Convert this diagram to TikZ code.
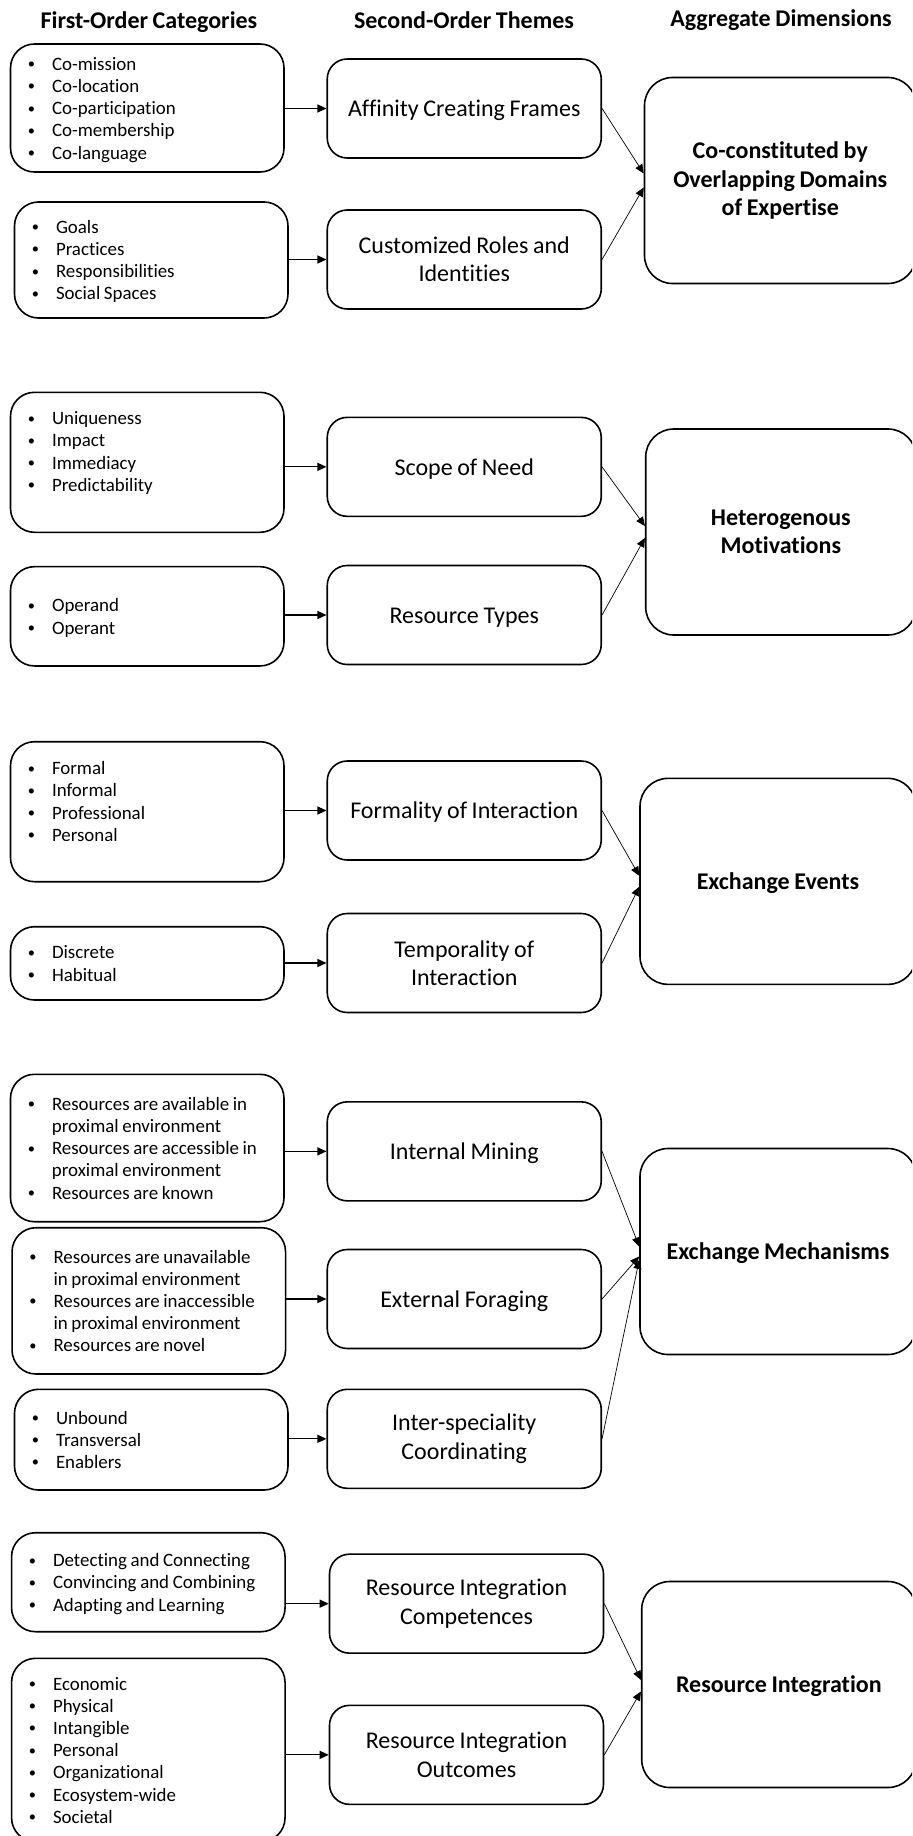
\documentclass[tikz,border=0pt]{standalone}
\usepackage{fontspec}
\setmainfont{Carlito}[Ligatures={NoCommon}, WordSpace=0.85]
\usetikzlibrary{arrows.meta, positioning}

\newcommand{\bul}{\makebox[10pt]{\raisebox{0.8pt}{\fontsize{7.2}{7.2}\selectfont\textbullet}}}
\newcommand{\catlist}[1]{\fontsize{9.45}{11.1}\selectfont\spaceskip=0pt\xspaceskip=0pt\raisebox{-1.1pt}[\height][\depth]{\begin{tabular}{@{\hspace{5.5pt}}l@{\hspace{5.25pt}}l@{}}#1\end{tabular}}}

\begin{document}
\begin{tikzpicture}[
  x=0.5pt, y=-0.5pt,
  catbox/.style={draw, line width=0.8pt, rounded corners=12pt, inner sep=0pt, text width=136.75pt, align=left},
  themebox/.style={draw, line width=0.8pt, rounded corners=10pt, inner sep=0pt, minimum width=137pt, minimum height=49.5pt, align=center, font=\fontsize{12}{14.15}\selectfont},
  dimbox/.style={draw, line width=0.8pt, rounded corners=14pt, inner sep=0pt, minimum height=103pt, align=center, font=\bfseries\fontsize{12}{14.25}\selectfont},
  single/.style={text height=10.4pt, text depth=2pt},
  hdr/.style={font=\bfseries\fontsize{12}{14}\selectfont, inner sep=0pt, text height=9.7pt, text depth=2pt},
  feed/.style={-{Triangle[length=4.5pt, width=4pt]}, line width=0.6pt},
  merge/.style={-{Triangle[length=4.5pt, width=4pt]}, line width=0.35pt}
]
  \useasboundingbox (0,0) rectangle (912,1836);
  \clip (0,0) rectangle (912,1836);

  \node[hdr] (h1) at (149,20.5) {First-Order Categories};
  \node[hdr] (h2) at (464,20.5) {Second-Order Themes};
  \node[hdr] (h3) at (781,19) {Aggregate Dimensions};

  \node[catbox, minimum height=64pt] (cat11) at (147.25,108) {\catlist{\bul & Co-mission\\ \bul & Co-location\\ \bul & Co-participation\\ \bul & Co-membership\\ \bul & Co-language}};
  \node[catbox, minimum height=58pt] (cat12) at (151.25,260) {\catlist{\bul & Goals\\ \bul & Practices\\ \bul & Responsibilities\\ \bul & Social Spaces}};
  \node[catbox, minimum height=70pt] (cat21) at (147.25,462.3) {\catlist{\bul & Uniqueness\\ \bul & Impact\\ \bul & Immediacy\\ \bul & Predictability\\[11pt]}};
  \node[catbox, minimum height=49.65pt] (cat22) at (147.25,616.3) {\catlist{\bul & Operand\\ \bul & Operant}};
  \node[catbox, minimum height=70pt] (cat31) at (147.25,811.7) {\catlist{\bul & Formal\\ \bul & Informal\\ \bul & Professional\\ \bul & Personal\\[10.4pt]}};
  \node[catbox, minimum height=36.65pt] (cat32) at (147.25,963.35) {\catlist{\bul & Discrete\\ \bul & Habitual}};
  \node[catbox, minimum height=73.7pt] (cat41) at (147.25,1148) {\catlist{\bul & Resources are available in\\ & proximal environment\\ \bul & Resources are accessible in\\ & proximal environment\\ \bul & Resources are known}};
  \node[catbox, minimum height=73.15pt] (cat42) at (148.8,1300.85) {\catlist{\bul & Resources are unavailable\\ & in proximal environment\\ \bul & Resources are inaccessible\\ & in proximal environment\\ \bul & Resources are novel}};
  \node[catbox, minimum height=50.35pt] (cat43) at (151.25,1439.65) {\catlist{\bul & Unbound\\ \bul & Transversal\\ \bul & Enablers}};
  \node[catbox, minimum height=49.5pt] (cat51) at (148.3,1582.2) {\catlist{\bul & Detecting and Connecting\\ \bul & Convincing and Combining\\ \bul & Adapting and Learning}};
  \node[catbox, minimum height=91.7pt] (cat52) at (148.3,1750) {\catlist{\bul & Economic\\ \bul & Physical\\ \bul & Intangible\\ \bul & Personal\\ \bul & Organizational\\ \bul & Ecosystem-wide\\ \bul & Societal}};

  \node[themebox, single] (theme11) at (464.25,108.5) {Affinity Creating Frames};
  \node[themebox] (theme12) at (464.25,259.5) {Customized Roles and\\Identities};
  \node[themebox, single] (theme21) at (464.25,466.85) {Scope of Need};
  \node[themebox, single] (theme22) at (464.25,615) {Resource Types};
  \node[themebox, single] (theme31) at (464.25,810.5) {Formality of Interaction};
  \node[themebox] (theme32) at (464.25,963) {Temporality of\\Interaction};
  \node[themebox, single] (theme41) at (464.25,1151.35) {Internal Mining};
  \node[themebox, single] (theme42) at (464.25,1299) {External Foraging};
  \node[themebox] (theme43) at (464.25,1438.8) {Inter-speciality\\Coordinating};
  \node[themebox] (theme51) at (466.5,1603.65) {Resource Integration\\Competences};
  \node[themebox] (theme52) at (466.5,1754.85) {Resource Integration\\Outcomes};

  \node[dimbox, minimum width=135.75pt] (dim1) at (780.25,180.5) {Co-constituted by\\Overlapping Domains\\of Expertise};
  \node[dimbox, minimum width=135.15pt] (dim2) at (780.85,532) {Heterogenous\\Motivations};
  \node[dimbox, single, minimum width=138pt] (dim3) at (778,881.35) {Exchange Events};
  \node[dimbox, single, minimum width=138pt] (dim4) at (778,1251.5) {Exchange Mechanisms};
  \node[dimbox, single, minimum width=137.15pt] (dim5) at (778.85,1684.5) {Resource Integration};

  \draw[feed] (cat11.east |- theme11) -- (theme11.west);
  \draw[feed] (cat12.east |- theme12) -- (theme12.west);
  \draw[feed] (cat21.east |- theme21) -- (theme21.west);
  \draw[feed] (cat22.east |- theme22) -- (theme22.west);
  \draw[feed] (cat31.east |- theme31) -- (theme31.west);
  \draw[feed] (cat32.east |- theme32) -- (theme32.west);
  \draw[feed] (cat41.east |- theme41) -- (theme41.west);
  \draw[feed] (cat42.east |- theme42) -- (theme42.west);
  \draw[feed] (cat43.east |- theme43) -- (theme43.west);
  \draw[feed] (cat51.east |- theme51) -- (theme51.west);
  \draw[feed] (cat52.east |- theme52) -- (theme52.west);

  \draw[merge] (theme11.east) -- ([yshift=3.5pt]dim1.west);
  \draw[merge] (theme12.east) -- ([yshift=-3.5pt]dim1.west);
  \draw[merge] (theme21.east) -- ([yshift=3pt]dim2.west);
  \draw[merge] (theme22.east) -- ([yshift=-3pt]dim2.west);
  \draw[merge] (theme31.east) -- ([yshift=2.8pt]dim3.west);
  \draw[merge] (theme32.east) -- ([yshift=-2.7pt]dim3.west);
  \draw[merge] (theme41.east) -- ([yshift=2.5pt]dim4.west);
  \draw[merge] (theme42.east) -- ([yshift=-2.5pt]dim4.west);
  \draw[merge] (theme43.east) -- ([yshift=-4.2pt]dim4.west);
  \draw[merge] (theme51.east) -- ([yshift=2.3pt]dim5.west);
  \draw[merge] (theme52.east) -- ([yshift=-3.5pt]dim5.west);
\end{tikzpicture}
\end{document}
